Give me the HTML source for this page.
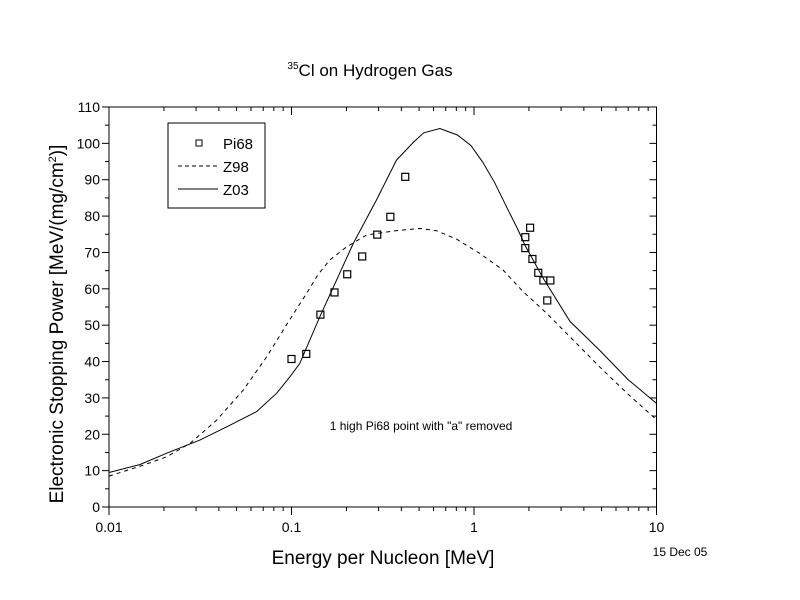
<!DOCTYPE html>
<html><head><meta charset="utf-8"><style>
body{margin:0;background:#fff}
svg{display:block;font-family:"Liberation Sans",Arial,sans-serif}
</style></head><body>
<svg id="chart" width="800" height="600" viewBox="0 0 800 600">
<text x="370" y="76" font-size="17" text-anchor="middle"><tspan font-size="10" dy="-7">35</tspan><tspan dy="7">Cl on Hydrogen Gas</tspan></text>
<text transform="translate(63,324) rotate(-90)" font-size="19" text-anchor="middle">Electronic Stopping Power [MeV/(mg/cm<tspan font-size="11" dy="-7">2</tspan><tspan dy="7">)]</tspan></text>
<text x="383" y="564" font-size="19" text-anchor="middle">Energy per Nucleon [MeV]</text>
<text x="680" y="556" font-size="12" text-anchor="middle">15 Dec 05</text>
<text x="421" y="430" font-size="12" text-anchor="middle">1 high Pi68 point with "a" removed</text>
<g id="axes"></g>
<g id="series"></g>
<g>
<rect x="168" y="123" width="97" height="85" fill="#fff" stroke="#000" stroke-width="1"/>
<rect x="196" y="140" width="6" height="6" fill="none" stroke="#000"/>
<text x="223" y="149" font-size="15">Pi68</text>
<line x1="178" y1="166" x2="218" y2="166" stroke="#000" stroke-dasharray="4,3"/>
<text x="223" y="172" font-size="15">Z98</text>
<line x1="178" y1="189" x2="218" y2="189" stroke="#000"/>
<text x="223" y="195" font-size="15">Z03</text>
</g>
</svg>
<script>
const pi68E=[0.1,0.1205,0.144,0.172,0.202,0.244,0.295,0.348,0.42,2.03,1.91,1.91,2.09,2.25,2.40,2.62,2.52];
const pi68S=[40.7,42.1,52.9,59.0,64.0,68.9,74.9,79.8,90.8,76.8,74.2,71.2,68.2,64.4,62.3,62.3,56.8];
const z03E=[0.01,0.0148,0.0207,0.0315,0.046,0.0643,0.083,0.098,0.111,0.143,0.218,0.292,0.376,0.468,0.531,0.65,0.811,0.962,1.117,1.295,1.53,1.74,1.91,2.40,3.36,4.9,7,10];
const z03S=[9.5,11.7,14.8,18.4,22.5,26.2,31.3,35.8,39.5,52.3,72.5,84.4,95.4,100.4,102.9,104.1,102.3,99.4,94.8,89.3,81.9,76.3,71.8,62.8,51,43,35,28.5];
const z98E=[0.01,0.0154,0.0207,0.0278,0.0389,0.0545,0.0731,0.095,0.12,0.14,0.162,0.2,0.258,0.376,0.505,0.62,0.8,1.07,1.44,1.86,2.5,3.15,5,7,10];
const z98S=[8.5,11.5,13.8,17.5,23.9,32.2,41.3,50.5,58.5,64,67.9,71.5,74.8,76.0,76.6,76.0,73.7,69.8,65.2,59.2,53.3,48.2,38,31,24];
const xTicks=[0.01,0.1,1,10];
const xTickLabels=["0.01","0.1","1","10"];
const yTicks=[0,10,20,30,40,50,60,70,80,90,100,110];

const X0=109,DEC=182.5,Y0=507,YS=400/110;
const sx=e=>X0+DEC*(Math.log10(e)+2);
const sy=v=>Y0-v*YS;
const NS="http://www.w3.org/2000/svg";
function mk(tag,attrs,parent){const el=document.createElementNS(NS,tag);for(const k in attrs)el.setAttribute(k,attrs[k]);parent.appendChild(el);return el;}
const axes=document.getElementById('axes'),series=document.getElementById('series');
const frame=mk('rect',{x:X0,y:sy(110),width:DEC*3,height:400,fill:'none',stroke:'#000','stroke-width':1},axes);


for(let d=-2;d<1;d++){for(let m=1;m<=10;m++){const e=m*Math.pow(10,d);const x=sx(e);const major=(m===1||m===10);
 const t=mk('line',{x1:x,y1:Y0,x2:x,y2:Y0+(major?8:4),stroke:'#000'},axes);
 
 
 const t2=mk('line',{x1:x,y1:sy(110),x2:x,y2:sy(110)+(major?8:4),stroke:'#000'},axes);
 
 }}
xTicks.forEach((e,i)=>{const t=mk('text',{x:sx(e),y:Y0+25,'font-size':14,'text-anchor':'middle'},axes);t.textContent=xTickLabels[i];
 
 });
for(let v=0;v<=110;v+=5){const y=sy(v);const major=v%10===0;
 const t=mk('line',{x1:X0-(major?7:4),y1:y,x2:X0,y2:y,stroke:'#000'},axes);
 
 
 const t2=mk('line',{x1:X0+DEC*3-(major?7:4),y1:y,x2:X0+DEC*3,y2:y,stroke:'#000'},axes);
 
 }
yTicks.forEach(v=>{const t=mk('text',{x:X0-9,y:sy(v)+5,'font-size':14,'text-anchor':'end'},axes);t.textContent=v;
 
 });
function pathOf(E,S){return E.map((e,i)=>(i?'L':'M')+sx(e).toFixed(1)+','+sy(S[i]).toFixed(1)).join(' ');}
const l98=mk('path',{d:pathOf(z98E,z98S),fill:'none',stroke:'#000','stroke-dasharray':'4,4'},series);


const l03=mk('path',{d:pathOf(z03E,z03S),fill:'none',stroke:'#000'},series);


pi68E.forEach((e,i)=>{const p=mk('rect',{x:sx(e)-3.5,y:sy(pi68S[i])-3.5,width:7,height:7,fill:'none',stroke:'#000','stroke-width':1.2},series);
 
 });
</script>
</body></html>
